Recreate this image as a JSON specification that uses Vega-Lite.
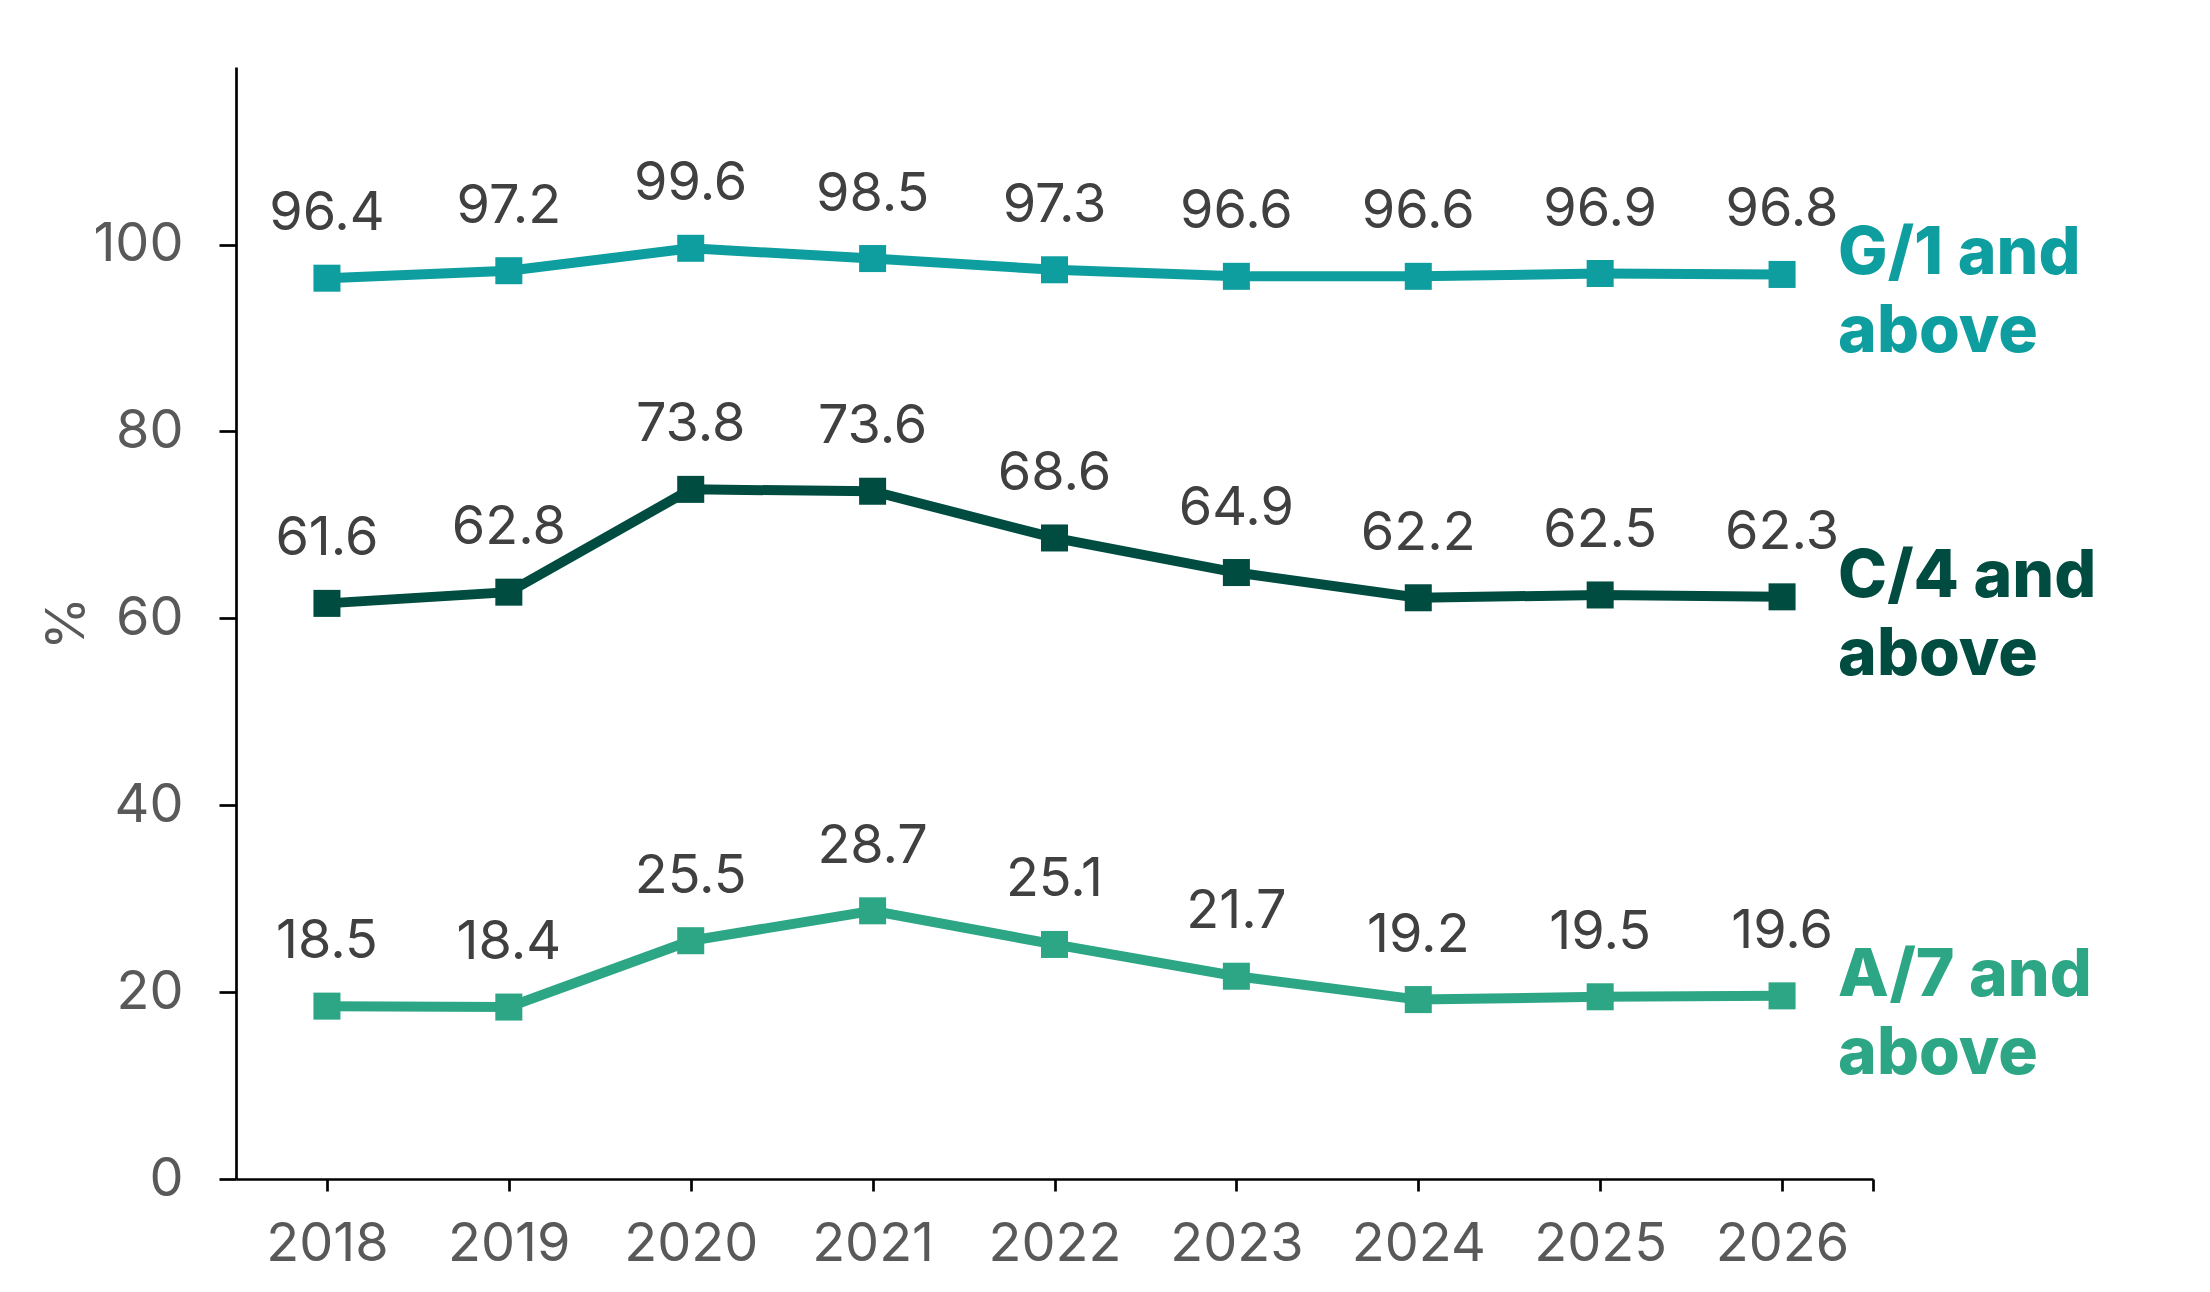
{
  "$schema": "https://vega.github.io/schema/vega-lite/v6.json",
  "autosize": {"type": "none"},
  "padding": {"left": 236, "top": 67, "right": 337, "bottom": 113},
  "width": 1637,
  "height": 1112,
  "background": "white",
  "config": {
    "view": {"stroke": null},
    "font": "Inter",
    "axis": {
      "domainColor": "#000000",
      "domainWidth": 2.7,
      "tickColor": "#000000",
      "tickWidth": 2.7,
      "grid": false,
      "labelFont": "Inter",
      "labelFontSize": 54,
      "labelColor": "#595959",
      "titleFont": "Inter",
      "titleFontSize": 54,
      "titleFontWeight": "normal",
      "titleColor": "#595959"
    }
  },
  "data": {
    "values": [
      {"series": "G/1 and above", "year": 2018, "value": 96.4},
      {"series": "G/1 and above", "year": 2019, "value": 97.2},
      {"series": "G/1 and above", "year": 2020, "value": 99.6},
      {"series": "G/1 and above", "year": 2021, "value": 98.5},
      {"series": "G/1 and above", "year": 2022, "value": 97.3},
      {"series": "G/1 and above", "year": 2023, "value": 96.6},
      {"series": "G/1 and above", "year": 2024, "value": 96.6},
      {"series": "G/1 and above", "year": 2025, "value": 96.9},
      {"series": "G/1 and above", "year": 2026, "value": 96.8},
      {"series": "C/4 and above", "year": 2018, "value": 61.6},
      {"series": "C/4 and above", "year": 2019, "value": 62.8},
      {"series": "C/4 and above", "year": 2020, "value": 73.8},
      {"series": "C/4 and above", "year": 2021, "value": 73.6},
      {"series": "C/4 and above", "year": 2022, "value": 68.6},
      {"series": "C/4 and above", "year": 2023, "value": 64.9},
      {"series": "C/4 and above", "year": 2024, "value": 62.2},
      {"series": "C/4 and above", "year": 2025, "value": 62.5},
      {"series": "C/4 and above", "year": 2026, "value": 62.3},
      {"series": "A/7 and above", "year": 2018, "value": 18.5},
      {"series": "A/7 and above", "year": 2019, "value": 18.4},
      {"series": "A/7 and above", "year": 2020, "value": 25.5},
      {"series": "A/7 and above", "year": 2021, "value": 28.7},
      {"series": "A/7 and above", "year": 2022, "value": 25.1},
      {"series": "A/7 and above", "year": 2023, "value": 21.7},
      {"series": "A/7 and above", "year": 2024, "value": 19.2},
      {"series": "A/7 and above", "year": 2025, "value": 19.5},
      {"series": "A/7 and above", "year": 2026, "value": 19.6}
    ]
  },
  "encoding": {
    "x": {
      "field": "year",
      "type": "quantitative",
      "scale": {"domain": [2017.5, 2026.5], "nice": false, "zero": false},
      "axis": {
        "title": null,
        "values": [2018, 2019, 2020, 2021, 2022, 2023, 2024, 2025, 2026, 2026.5],
        "labelExpr": "datum.value % 1 == 0 ? datum.value : ''",
        "tickSize": 12,
        "labelPadding": 26,
        "labelFlush": false,
        "labelOverlap": false
      }
    },
    "y": {
      "field": "value",
      "type": "quantitative",
      "scale": {"domain": [0, 119], "nice": false},
      "axis": {
        "title": "%",
        "values": [0, 20, 40, 60, 80, 100],
        "tickSize": 17,
        "labelPadding": 36,
        "titlePadding": -2
      }
    },
    "color": {
      "field": "series",
      "type": "nominal",
      "scale": {
        "domain": ["G/1 and above", "C/4 and above", "A/7 and above"],
        "range": ["#0E9EA0", "#004C40", "#2CA684"]
      },
      "legend": null
    }
  },
  "layer": [
    {
      "mark": {
        "type": "line",
        "strokeWidth": 10,
        "point": {"shape": "square", "size": 730, "filled": true, "opacity": 1}
      }
    },
    {
      "mark": {
        "type": "text",
        "baseline": "alphabetic",
        "align": "center",
        "dy": -48,
        "fontSize": 54,
        "color": "#404040"
      },
      "encoding": {
        "text": {"field": "value", "type": "quantitative", "format": ".1f"},
        "color": {"value": "#404040"}
      }
    },
    {
      "transform": [
        {"filter": "datum.year == 2026"},
        {"calculate": "[replace(datum.series, ' above', ''), 'above']", "as": "label"}
      ],
      "mark": {
        "type": "text",
        "baseline": "alphabetic",
        "align": "left",
        "dx": 56,
        "fontSize": 66,
        "fontWeight": 800,
        "lineHeight": 78
      },
      "encoding": {
        "text": {"field": "label"}
      }
    }
  ]
}
